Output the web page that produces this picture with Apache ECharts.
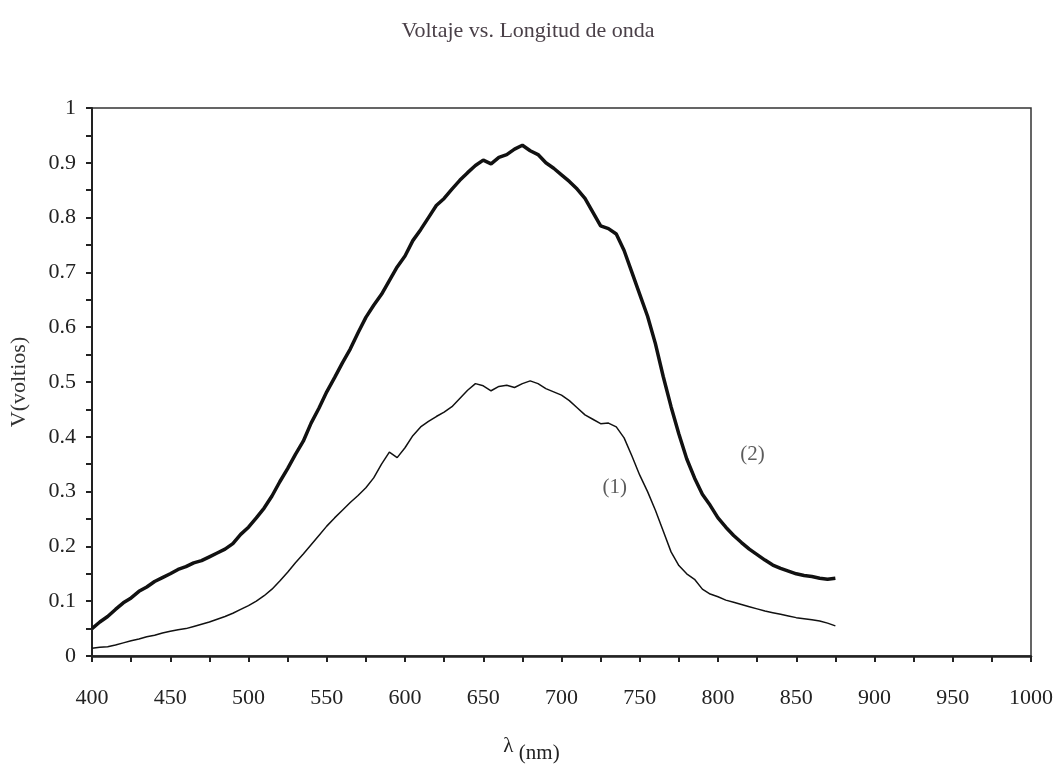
<!DOCTYPE html>
<html>
<head>
<meta charset="utf-8">
<script src="https://cdn.jsdelivr.net/npm/echarts@6/dist/echarts.min.js"></script>
<style>html,body{margin:0;padding:0;background:#fff;}#c{width:1056px;height:781px;}</style>
</head>
<body>
<div id="c"></div>
<script>
const wavelengths = [400,405,410,415,420,425,430,435,440,445,450,455,460,465,470,475,480,485,490,495,500,505,510,515,520,525,530,535,540,545,550,555,560,565,570,575,580,585,590,595,600,605,610,615,620,625,630,635,640,645,650,655,660,665,670,675,680,685,690,695,700,705,710,715,720,725,730,735,740,745,750,755,760,765,770,775,780,785,790,795,800,805,810,815,820,825,830,835,840,845,850,855,860,865,870,875];
const curve2 = [0.050,0.062,0.072,0.085,0.097,0.106,0.118,0.126,0.136,0.143,0.150,0.158,0.163,0.170,0.174,0.181,0.188,0.195,0.205,0.222,0.235,0.252,0.270,0.292,0.318,0.342,0.368,0.392,0.425,0.452,0.482,0.508,0.535,0.560,0.590,0.618,0.640,0.660,0.685,0.710,0.730,0.758,0.778,0.800,0.822,0.835,0.852,0.868,0.882,0.895,0.905,0.898,0.910,0.915,0.925,0.932,0.922,0.915,0.900,0.890,0.878,0.866,0.852,0.835,0.810,0.785,0.780,0.770,0.740,0.700,0.660,0.620,0.570,0.510,0.455,0.405,0.360,0.325,0.295,0.275,0.252,0.235,0.220,0.207,0.195,0.185,0.175,0.166,0.160,0.155,0.150,0.147,0.145,0.142,0.140,0.142];
const curve1 = [0.014,0.016,0.017,0.020,0.024,0.028,0.031,0.035,0.038,0.042,0.045,0.048,0.050,0.054,0.058,0.062,0.067,0.072,0.078,0.085,0.092,0.100,0.110,0.122,0.137,0.153,0.170,0.186,0.203,0.220,0.237,0.252,0.266,0.280,0.293,0.307,0.325,0.350,0.372,0.362,0.380,0.402,0.418,0.428,0.437,0.445,0.455,0.470,0.485,0.497,0.493,0.484,0.492,0.494,0.490,0.497,0.502,0.497,0.488,0.482,0.476,0.466,0.453,0.440,0.432,0.424,0.425,0.418,0.398,0.365,0.330,0.300,0.266,0.228,0.190,0.165,0.150,0.140,0.122,0.113,0.108,0.102,0.098,0.094,0.090,0.086,0.082,0.079,0.076,0.073,0.070,0.068,0.066,0.064,0.060,0.055];
const curveLabels = [{text:'(1)', x:734, y:0.308},{text:'(2)', x:822, y:0.367}];
const titleText = 'Voltaje vs. Longitud de onda';
const yName = 'V(voltios)';

const serif = '"Liberation Serif","DejaVu Serif",serif';
const ink = '#222';
const chart = echarts.init(document.getElementById('c'));
chart.setOption({
  animation:false,
  backgroundColor:'#fff',
  title:{text:titleText, left:'center', top:15, textStyle:{fontFamily:serif, fontSize:22, fontWeight:'normal', color:'#4a4048'}},
  grid:{left:91, right:25, top:108, bottom:125, show:true, borderColor:'#333', borderWidth:1.5},
  xAxis:{type:'value', min:400, max:1000, interval:50,
    name:'{l|λ}{n| (nm)}', nameLocation:'middle', nameGap:80,
    nameTextStyle:{fontFamily:serif, color:ink, padding:[0,60,0,0], rich:{l:{fontSize:21, fontFamily:serif, color:ink, verticalAlign:'top', lineHeight:28}, n:{fontSize:21, fontFamily:serif, color:ink, verticalAlign:'bottom', padding:[16,0,0,0], lineHeight:28}}},
    axisLine:{lineStyle:{color:ink, width:2.5}},
    axisTick:{show:true, inside:false, length:6, lineStyle:{color:ink, width:2}},
    minorTick:{show:true, splitNumber:2, length:6, lineStyle:{color:ink, width:2}},
    splitLine:{show:false},
    axisLabel:{fontFamily:serif, fontSize:22, color:ink, margin:31, formatter:v=>String(v)}
  },
  yAxis:{type:'value', min:0, max:1, interval:0.1,
    name:yName, nameLocation:'middle', nameGap:62,
    nameTextStyle:{fontFamily:serif, fontSize:22, color:'#333'},
    axisLine:{show:true, lineStyle:{color:ink, width:2}},
    axisTick:{show:true, inside:false, length:6, lineStyle:{color:ink, width:2}},
    minorTick:{show:true, splitNumber:2, length:6, lineStyle:{color:ink, width:2}},
    splitLine:{show:false},
    axisLabel:{fontFamily:serif, fontSize:22, color:ink, margin:16, formatter:v=>String(Math.round(v*10)/10)}
  },
  series:[
    {type:'line', name:'(2)', data:wavelengths.map((w,i)=>[w,curve2[i]]), showSymbol:false, lineStyle:{color:'#111', width:3.5}},
    {type:'line', name:'(1)', data:wavelengths.map((w,i)=>[w,curve1[i]]), showSymbol:false, lineStyle:{color:'#111', width:1.5}},
    {type:'scatter', data:curveLabels.map(d=>[d.x,d.y,d.text]), symbolSize:0, silent:true,
     label:{show:true, position:'inside', formatter:p=>p.data[2], fontFamily:serif, fontSize:21, color:'#333'}}
  ]
});
</script>
</body>
</html>
